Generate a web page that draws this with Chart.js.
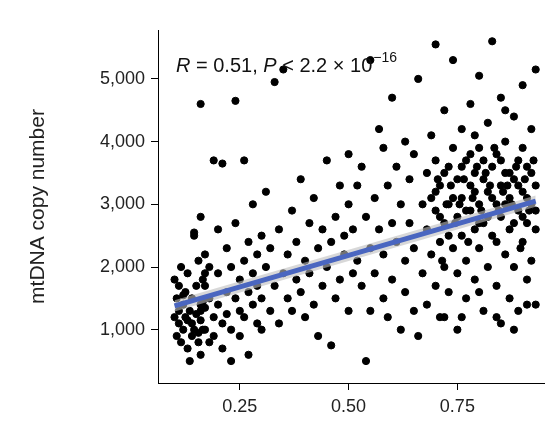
<!DOCTYPE html>
<html>
<head>
<meta charset="utf-8">
<script src="https://cdn.jsdelivr.net/npm/chart.js@4"></script>
<style>
  html, body { margin: 0; padding: 0; background: #fff; }
  #wrap { width: 549px; height: 433px; }
</style>
</head>
<body>
<div id="wrap"><canvas id="graph"></canvas></div>
<script>
// values (estimated)
var xValues = [
  0.10,0.10,0.105,0.105,0.11,0.11,0.11,0.115,0.115,0.12,0.12,0.125,0.125,0.13,0.13,0.135,0.135,0.14,0.14,0.14,0.145,0.145,0.15,0.15,0.155,0.155,0.16,0.16,0.16,0.165,0.165,0.17,0.17,0.12,0.13,0.145,0.155,0.165,
  0.16,0.16,0.16,0.17,0.17,0.17,0.18,0.18,0.18,0.19,0.19,0.19,0.20,0.20,0.20,0.21,0.21,0.21,0.22,0.22,0.22,0.23,0.23,0.23,0.24,0.24,0.24,0.25,0.25,0.25,0.26,0.26,0.26,0.27,0.27,0.27,0.28,0.28,0.28,0.29,0.29,0.29,0.30,0.30,0.30,
  0.31,0.31,0.32,0.32,0.33,0.33,0.34,0.34,0.35,0.35,0.36,0.36,0.37,0.37,0.38,0.38,0.39,0.39,0.40,0.40,0.41,0.41,0.42,0.42,0.43,0.43,0.44,0.44,0.45,0.45,0.46,0.46,0.47,0.47,0.48,0.48,0.49,0.49,0.50,0.50,0.50,
  0.51,0.51,0.52,0.52,0.53,0.53,0.54,0.54,0.55,0.55,0.55,0.56,0.56,0.57,0.57,0.58,0.58,0.58,0.59,0.59,0.60,0.60,0.60,0.61,0.61,0.62,0.62,0.63,0.63,0.63,0.64,0.64,0.65,0.65,0.65,0.66,0.66,0.67,0.67,
  0.68,0.68,0.68,0.69,0.69,0.69,0.70,0.70,0.70,0.70,0.71,0.71,0.71,0.72,0.72,0.72,0.73,0.73,0.73,0.74,0.74,0.74,0.75,0.75,0.75,0.75,0.76,0.76,0.76,0.77,0.77,0.77,0.78,0.78,0.78,0.79,0.79,0.79,0.80,0.80,0.80,0.80,0.81,0.81,0.81,0.82,0.82,0.82,0.83,0.83,0.83,0.84,0.84,0.84,0.85,0.85,0.85,0.85,0.86,0.86,0.86,0.87,0.87,0.87,0.88,0.88,0.88,0.89,0.89,0.89,0.90,0.90,0.90,0.91,0.91,0.91,0.92,0.92,0.92,0.93,0.93,0.93,0.93,
  0.70,0.71,0.72,0.73,0.74,0.76,0.77,0.78,0.79,0.80,0.81,0.82,0.83,0.84,0.85,0.86,0.87,0.88,0.89,0.90,0.91,0.92,0.93,0.72,0.76,0.80,0.84,0.88,0.91,0.79,0.86,0.90,
  0.705,0.715,0.725,0.735,0.745,0.755,0.765,0.775,0.785,0.795,0.805,0.815,0.825,0.835,0.845,0.855,0.865,0.875,0.885,0.895,0.905,0.915,0.925
];
var yValues = [
  1800,1200,900,1500,1700,1100,1300,800,2000,1400,1000,1600,1200,700,1900,500,1300,1100,1500,900,2500,1000,1700,1250,800,2100,1400,1150,600,1800,1000,1350,1900,1550,1150,2550,950,1450,
  4600,2800,1300,1000,1700,2200,800,1500,2000,1200,3700,900,1900,1400,2600,1100,3650,700,1600,2300,1250,1000,2000,500,4650,1500,2700,1300,1800,900,3700,2100,1200,1600,600,2400,1400,1900,3000,1100,2200,1700,1500,2500,1000,
  2000,3200,1300,2300,4950,1700,2600,1100,5150,1900,2200,1500,2900,1300,2400,1800,3400,1600,2100,1200,2700,1900,3100,1400,900,2300,2600,1700,3700,2000,750,2400,2800,1500,1800,3300,2200,2500,3000,1300,3800,
  2600,1900,3300,2100,1700,3600,500,2800,1300,5300,2300,3100,1900,4200,2600,1500,3900,2200,3300,1200,2700,4700,1800,3600,2400,1000,3000,2100,4000,1600,3400,2700,1300,3800,2300,5000,900,3000,1900,
  3500,2600,1400,4100,2200,3100,1700,2900,3700,5550,2400,3300,1200,4500,2700,2000,3600,3000,1600,2300,3900,5300,2800,3400,1900,1000,3100,2500,4200,3700,2100,1500,3300,2900,4600,2600,3500,1800,3000,2300,3900,5050,3400,2700,1300,3200,4300,2000,3600,2500,5600,3000,3800,1700,3300,2800,4700,1100,3500,2200,4000,3100,2600,1500,3400,4400,2000,2900,3700,1300,3200,4900,2400,3600,2700,1800,3000,4200,2100,3300,5150,1400,2600,
  3200,2800,3500,2500,3100,3600,2900,3800,3200,2700,3700,2800,3100,2400,3700,3000,3500,2700,3300,2800,3100,3500,2900,1200,1200,1600,1200,1000,1400,4100,4500,3900,
  3400,2100,3000,3300,2700,3000,3400,2400,3100,3600,2900,3500,3300,3900,2900,3200,3300,3000,3600,2300,3400,2900,3700
];
var fitX = [0.10, 0.93];
var fitY = [1380, 3050];
var bandLow = [1290, 2960];
var bandHigh = [1470, 3140];
var xTicks = [0.25, 0.50, 0.75];
var yTicks = [1000, 2000, 3000, 4000, 5000];

var points = xValues.map(function (x, i) { return { x: x, y: yValues[i] }; });
function pairs(ys) { return fitX.map(function (x, i) { return { x: x, y: ys[i] }; }); }

var annotation = {
  id: 'annotation',
  afterDatasetsDraw: function (chart) {
    var ctx = chart.ctx;
    ctx.save();
    ctx.fillStyle = '#111';
    ctx.textBaseline = 'alphabetic';
    var x = 176, y = 72;
    var parts = [
      ['italic 20px "Liberation Sans", Arial', 'R', 0, 0],
      ['20px "Liberation Sans", Arial', ' = 0.51, ', 0, 0],
      ['italic 20px "Liberation Sans", Arial', 'P', 0, 0],
      ['20px "Liberation Sans", Arial', ' < 2.2 × 10', 0, 1],
      ['14px "Liberation Sans", Arial', '−16', -10, 0]
    ];
    parts.forEach(function (p) {
      ctx.font = p[0];
      ctx.fillText(p[1], x, y + p[2]);
      x += ctx.measureText(p[1]).width + p[3];
    });
    ctx.restore();
  }
};

var ctx = document.getElementById('graph').getContext('2d');
new Chart(ctx, {
  data: {
    datasets: [
      {
        type: 'scatter',
        data: points,
        backgroundColor: '#000',
        borderColor: '#000',
        pointRadius: 3.6,
        pointHoverRadius: 3.6,
        order: 3
      },
      {
        type: 'line',
        data: pairs(bandLow),
        borderWidth: 0,
        pointRadius: 0,
        fill: false,
        order: 2
      },
      {
        type: 'line',
        data: pairs(bandHigh),
        borderWidth: 0,
        pointRadius: 0,
        backgroundColor: 'rgba(190,190,190,0.6)',
        fill: '-1',
        order: 2
      },
      {
        type: 'line',
        data: pairs(fitY),
        borderColor: '#4a66c0',
        borderWidth: 5,
        pointRadius: 0,
        fill: false,
        order: 1
      }
    ]
  },
  options: {
    responsive: true,
    maintainAspectRatio: false,
    animation: false,
    layout: { padding: { top: 30, right: 4, left: 26, bottom: 0 } },
    plugins: { legend: { display: false }, tooltip: { enabled: false } },
    scales: {
      x: {
        type: 'linear',
        min: 0.062,
        max: 0.95,
        afterBuildTicks: function (scale) { scale.ticks = xTicks.map(function (v) { return { value: v }; }); },
        afterFit: function (scale) { scale.height = 50; },
        ticks: {
          color: '#222',
          font: { size: 18, family: '"Liberation Sans", Arial' },
          padding: 6,
          callback: function (v) { return v.toFixed(2); }
        },
        grid: { drawOnChartArea: false, tickLength: 7, color: '#000' },
        border: { display: true, color: '#000', width: 1 }
      },
      y: {
        type: 'linear',
        min: 150,
        max: 5780,
        afterBuildTicks: function (scale) { scale.ticks = yTicks.map(function (v) { return { value: v }; }); },
        afterFit: function (scale) { scale.width = 132; },
        ticks: {
          color: '#222',
          font: { size: 18, family: '"Liberation Sans", Arial' },
          padding: 6,
          callback: function (v) { return v.toLocaleString('en-US'); }
        },
        grid: { drawOnChartArea: false, tickLength: 7, color: '#000' },
        border: { display: true, color: '#000', width: 1 },
        title: {
          display: true,
          text: 'mtDNA copy number',
          color: '#222',
          font: { size: 21, family: '"Liberation Sans", Arial' },
          padding: { top: 0, bottom: 10 }
        }
      }
    }
  },
  plugins: [annotation]
});
</script>
</body>
</html>
